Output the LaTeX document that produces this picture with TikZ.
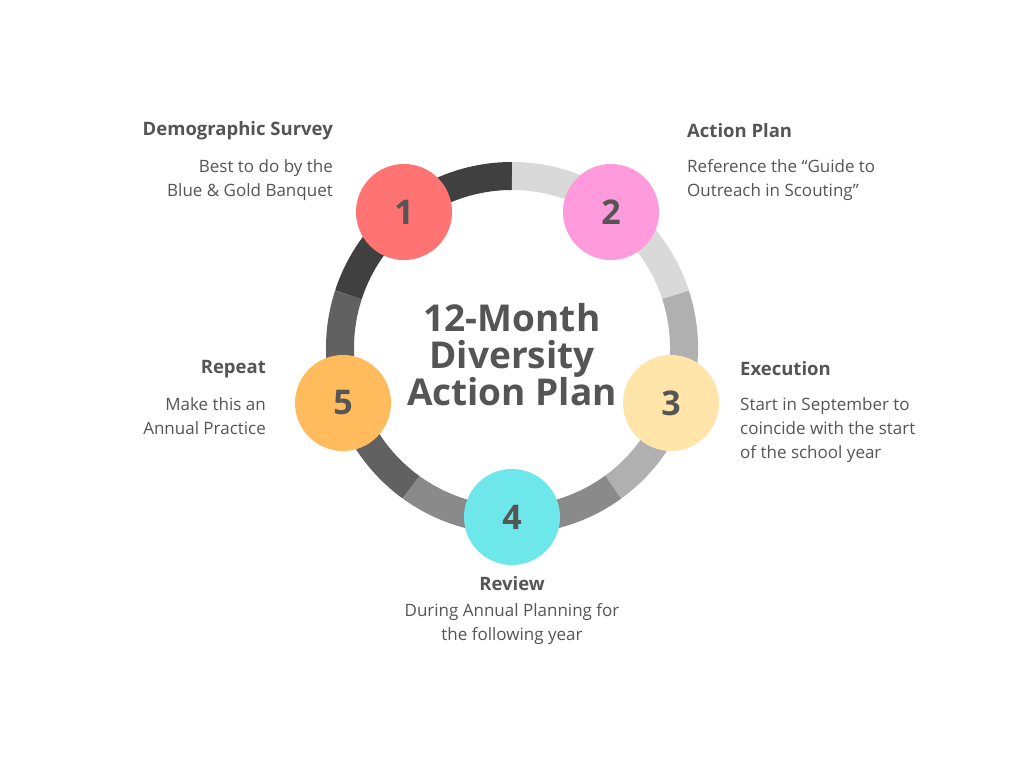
\documentclass[tikz,border=0pt]{standalone}
\usepackage{fontspec}
\setmainfont{Open Sans}
\usetikzlibrary{positioning,calc}
\definecolor{txt}{HTML}{555555}
\definecolor{ringA}{HTML}{404040}
\definecolor{ringB}{HTML}{D9D9D9}
\definecolor{ringC}{HTML}{B0B0B0}
\definecolor{ringD}{HTML}{8A8A8A}
\definecolor{ringE}{HTML}{616161}
\definecolor{stepA}{HTML}{FF7373}
\definecolor{stepB}{HTML}{FF9BDC}
\definecolor{stepC}{HTML}{FFE5AA}
\definecolor{stepD}{HTML}{6EE7EA}
\definecolor{stepE}{HTML}{FFBB5C}
\begin{document}
\begin{tikzpicture}[
    x=1pt, y=1pt,
    stepcircle/.style={
        circle,
        minimum size=96pt,
        inner sep=0pt,
        text=txt,
        font=\fontsize{34}{34}\selectfont\bfseries
    },
    headtext/.style={
        text=txt,
        inner sep=0pt,
        font=\fontsize{18.5}{20}\selectfont\bfseries
    },
    bodytext/.style={
        text=txt,
        inner sep=0pt,
        font=\fontsize{17}{24}\selectfont
    }
]
\useasboundingbox (0,0) rectangle (1024,768);
\fill[white] (0,0) rectangle (1024,768);

% Ring, one colour per step
\foreach \a/\c in {90/ringA, 18/ringB, -54/ringC, -126/ringD, 162/ringE}
    \draw[\c, line width=28pt] ($(512,420)+(\a:172)$) arc[start angle=\a, delta angle=72, radius=172];

% Steps
\node[stepcircle, fill=stepA] (one) at (404,556) {1};
\node[stepcircle, fill=stepB] (two) at (611,556) {2};
\node[stepcircle, fill=stepC] (three) at (671,365) {3};
\node[stepcircle, fill=stepD] (four) at (512,251) {4};
\node[stepcircle, fill=stepE] (five) at (343,365) {5};

% Centre title
\node[text=txt, align=center, font=\fontsize{37}{37}\selectfont\bfseries] (title) at (512,413)
    {12-Month\\Diversity\\Action Plan};

% Labels
\node[headtext, anchor=east] (surveyhead) at (333,637) {Demographic Survey};
\node[bodytext, anchor=north east, align=right] (surveybody) at (333,609) {Best to do by the\\Blue \& Gold Banquet};

\node[headtext, anchor=west] (planhead) at (687,637) {Action Plan};
\node[bodytext, anchor=north west, align=left] (planbody) at (687,609) {Reference the “Guide to\\Outreach in Scouting”};

\node[headtext, anchor=west] (exechead) at (740,399) {Execution};
\node[bodytext, anchor=north west, align=left] (execbody) at (740,371) {Start in September to\\coincide with the start\\of the school year};

\node[headtext] (reviewhead) at (512,184) {Review};
\node[bodytext, anchor=north, align=center] (reviewbody) at (512,165) {During Annual Planning for\\the following year};

\node[headtext, anchor=east] (repeathead) at (266,399) {Repeat};
\node[bodytext, anchor=north east, align=right] (repeatbody) at (266,371) {Make this an\\Annual Practice};
\end{tikzpicture}
\end{document}
